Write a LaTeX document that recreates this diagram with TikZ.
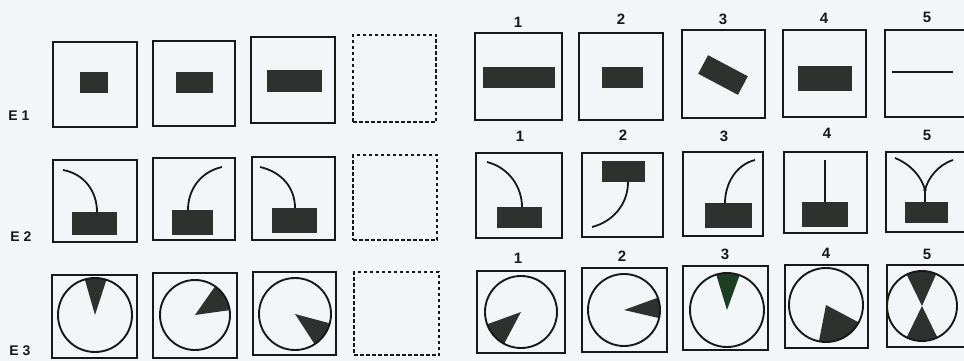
\documentclass[tikz,border=0pt]{standalone}
\usepackage{fontspec}
\setmainfont{Liberation Sans}
\usetikzlibrary{fit}
\definecolor{ink}{RGB}{24,24,24}
\definecolor{bark}{RGB}{46,50,47}
\definecolor{gwedge}{RGB}{30,62,36}
\definecolor{paper}{RGB}{243,246,248}
\tikzset{
  frame/.style={draw=ink, line width=2.2pt, inner sep=0pt, fill=none},
  dframe/.style={frame, line width=1.8pt, dash pattern=on 3.5pt off 2.5pt},
  bar/.style={fill=bark, draw=none},
  stem/.style={draw=ink, line width=1.8pt},
  ring/.style={draw=ink, line width=1.9pt},
  wedge/.style={fill=bark, draw=none},
  num/.style={font=\bfseries\fontsize{15}{15}\selectfont, text=ink, inner sep=0pt},
  rowlab/.style={font=\bfseries\fontsize{14}{14}\selectfont, text=ink, inner sep=0pt}
}
% box from corners
\newcommand\mkbox[6][frame]{\node[#1, fit={(#3,#4) (#5,#6)}] (#2) {};}
% sector: center x,y, radius, visual angles a1 a2
\newcommand\mksector[6][wedge]{\fill[#1] (#2,#3) -- +({-(#5)}:#4) arc[start angle={-(#5)}, end angle={-(#6)}, radius=#4] -- cycle;}
\begin{document}
\begin{tikzpicture}[x=1pt,y=-1pt]
\useasboundingbox (0,0) rectangle (964,361);
\clip (0,0) rectangle (964,361);
\fill[paper] (0,0) rectangle (964,361);

% row labels
\node[rowlab] (e1) at (19,116) {E 1};
\node[rowlab] (e2) at (21,237) {E 2};
\node[rowlab] (e3) at (20,351) {E 3};

% ---------- row 1 ----------
\mkbox{l11}{53}{42}{137}{127}
\mkbox{l12}{153}{41}{235}{126}
\mkbox{l13}{251}{37}{335}{123}
\mkbox[dframe]{l14}{353}{35}{436}{122}
\fill[bar] (80,72) rectangle (108,93);
\fill[bar] (176,72) rectangle (213,93);
\fill[bar] (267,70) rectangle (322,92);

\mkbox{r11}{475}{33}{562}{120}
\mkbox{r12}{579}{33}{663}{120}
\mkbox{r13}{682}{30}{765}{118}
\mkbox{r14}{783}{30}{866}{117}
\mkbox{r15}{885}{30}{968}{117}
\fill[bar] (483,67) rectangle (555,88);
\fill[bar] (602,67) rectangle (643,88);
\node[bar, rotate=-28, minimum width=45pt, minimum height=21pt, inner sep=0pt] (rot) at (723,75) {};
\fill[bar] (798,66) rectangle (852,91);
\draw[ink, line width=2.6pt] (892,72) -- (953,72);

\node[num] (n11) at (518,22) {1};
\node[num] (n12) at (621,19) {2};
\node[num] (n13) at (723,19) {3};
\node[num] (n14) at (824,18) {4};
\node[num] (n15) at (927,17) {5};

% ---------- row 2 ----------
\mkbox{l21}{53}{160}{137}{242}
\mkbox{l22}{153}{158}{235}{240}
\mkbox{l23}{252}{157}{335}{240}
\mkbox[dframe]{l24}{353}{155}{437}{240}
\fill[bar] (72,212) rectangle (117,235);
\draw[stem] (63,170) .. controls (85,174) and (97,192) .. (97,212);
\fill[bar] (172,210) rectangle (213,235);
\draw[stem] (222,167) .. controls (200,172) and (188,190) .. (188,210);
\fill[bar] (272,208) rectangle (317,233);
\draw[stem] (260,167) .. controls (282,172) and (295,188) .. (295,208);

\mkbox{r21}{476}{153}{562}{238}
\mkbox{r22}{582}{153}{663}{237}
\mkbox{r23}{683}{152}{763}{236}
\mkbox{r24}{784}{152}{867}{233}
\mkbox{r25}{886}{152}{969}{232}
\fill[bar] (497,207) rectangle (542,228);
\draw[stem] (487,162) .. controls (510,168) and (522,188) .. (522,207);
\fill[bar] (602,161) rectangle (645,182);
\draw[stem] (628,182) .. controls (628,205) and (612,222) .. (592,227);
\fill[bar] (705,203) rectangle (752,228);
\draw[stem] (755,160) .. controls (735,165) and (725,185) .. (725,203);
\fill[bar] (802,202) rectangle (848,227);
\draw[ink, line width=1.1pt] (825,160) -- (825,202);
\fill[bar] (905,202) rectangle (948,223);
\draw[stem] (895,158) .. controls (912,165) and (922,178) .. (925,190);
\draw[stem] (953,160) .. controls (938,165) and (928,178) .. (925,190);
\draw[ink, line width=1.1pt] (925,190) -- (925,202);
\fill[ink] (925,190) circle[radius=1.8];

\node[num] (n21) at (520,136) {1};
\node[num] (n22) at (623,135) {2};
\node[num] (n23) at (724,136) {3};
\node[num] (n24) at (827,133) {4};
\node[num] (n25) at (927,135) {5};

% ---------- row 3 ----------
\mkbox{l31}{52}{275}{137}{358}
\mkbox{l32}{153}{273}{237}{358}
\mkbox{l33}{253}{272}{336}{355}
\mkbox[dframe]{l34}{354}{272}{439}{355}
\mksector{95}{315}{37}{72}{106}
\draw[ring] (95,315) circle[radius=37];
\mksector{195}{315}{35}{8}{55}
\draw[ring] (195,315) circle[radius=35];
\mksector{295}{314}{36}{-57}{-15}
\draw[ring] (295,314) circle[radius=36];

\mkbox{r31}{477}{271}{565}{353}
\mkbox{r32}{582}{268}{667}{352}
\mkbox{r33}{683}{266}{768}{350}
\mkbox{r34}{785}{265}{868}{348}
\mkbox{r35}{887}{265}{970}{347}
\mksector{521}{312}{36}{200}{242}
\draw[ring] (521,312) circle[radius=36];
\mksector{624}{310}{36}{-13}{20}
\draw[ring] (624,310) circle[radius=36];
\mksector[fill=gwedge]{727}{310}{37}{70}{107}
\draw[ring] (727,310) circle[radius=37];
\mksector{826}{305}{37}{-101}{-28}
\draw[ring] (826,305) circle[radius=37];
\mksector{922}{306}{35}{66}{116}
\mksector{922}{306}{35}{244}{296}
\draw[ring] (922,306) circle[radius=35];

\node[num] (n31) at (518,258) {1};
\node[num] (n32) at (622,256) {2};
\node[num] (n33) at (725,254) {3};
\node[num] (n34) at (826,253) {4};
\node[num] (n35) at (927,254) {5};
\end{tikzpicture}
\end{document}
